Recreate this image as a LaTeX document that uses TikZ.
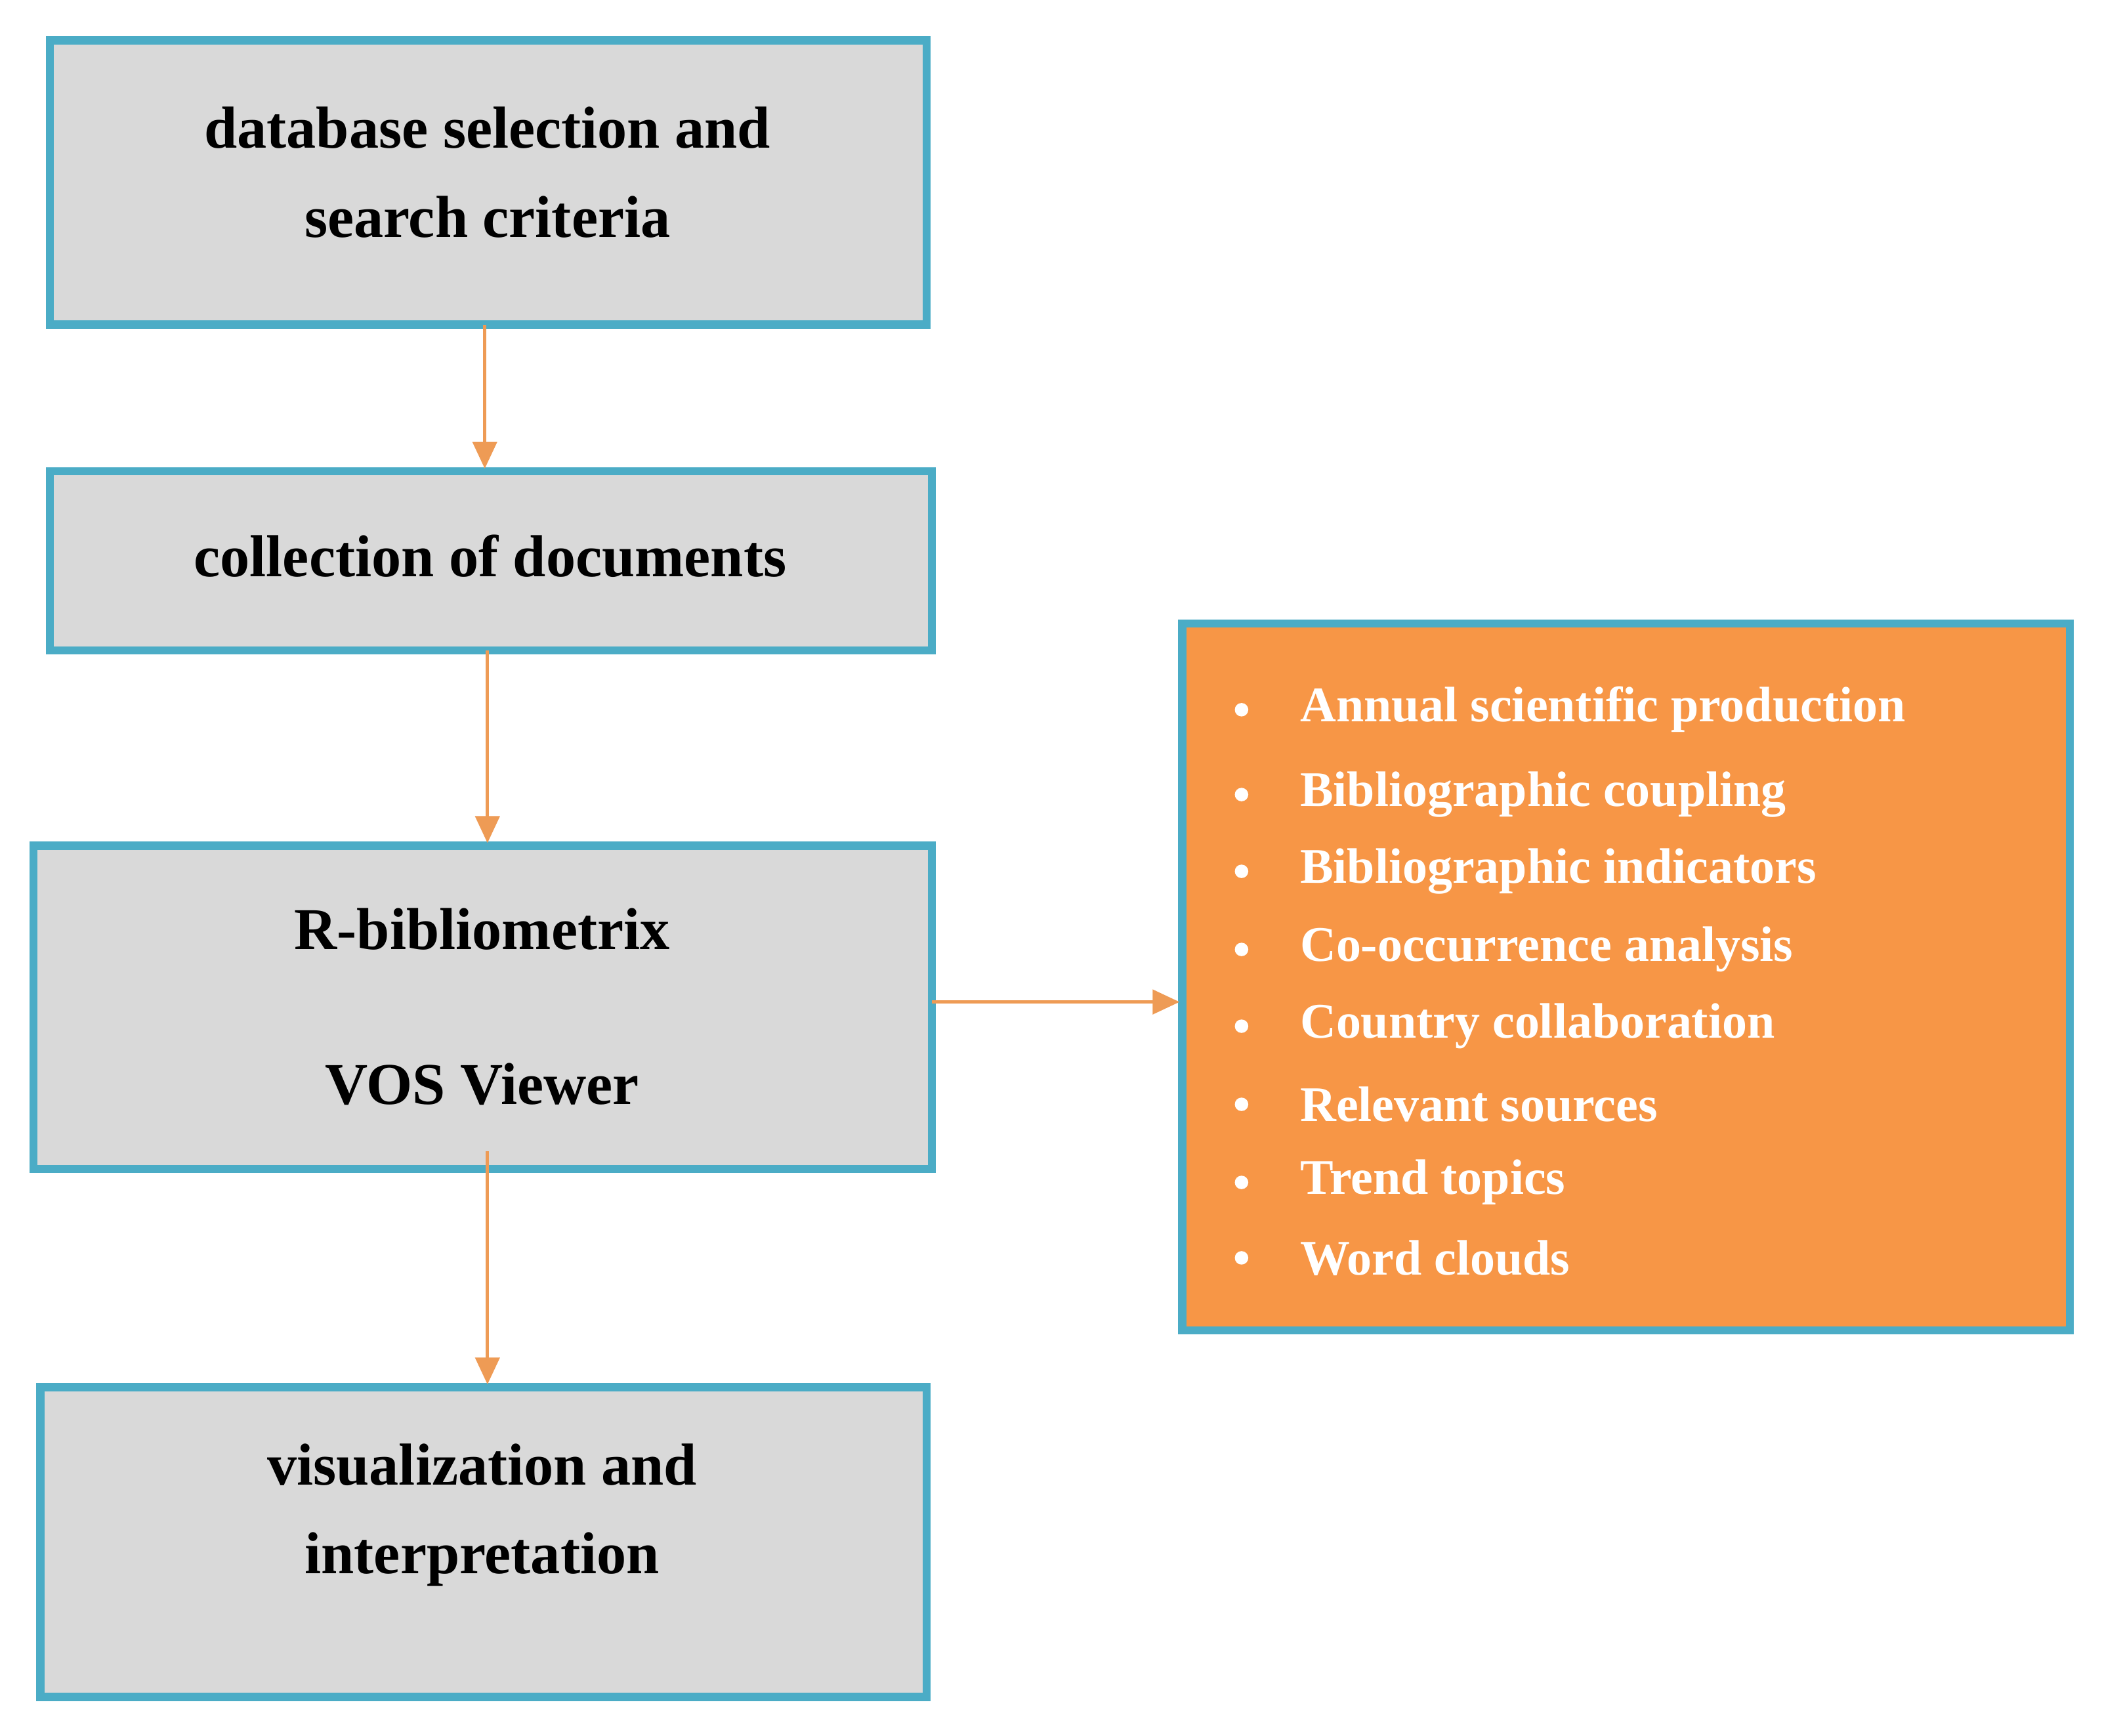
\documentclass[tikz,border=0pt]{standalone}
\usepackage{fontspec}
\setmainfont{Liberation Serif}
\usetikzlibrary{arrows.meta}
\definecolor{bord}{HTML}{4BACC6}
\definecolor{gfill}{HTML}{D9D9D9}
\definecolor{ofill}{HTML}{F79646}
\definecolor{arr}{HTML}{EE9B55}
\begin{document}
\begin{tikzpicture}[x=1pt,y=-1pt,
  box/.style={draw=bord,line width=6pt,fill=gfill},
  lab/.style={font=\bfseries\fontsize{44}{66}\selectfont,align=center},
  itm/.style={font=\bfseries\fontsize{37}{40}\selectfont,text=white,anchor=west},
  con/.style={draw=arr,line width=2.5pt,-{Triangle[length=20pt,width=18pt]}}]
\useasboundingbox (0,0) rectangle (1561,1289);
\draw[box] (37,30) rectangle (688,241);
\node[lab] (a) at (362,128) {database selection and\\search criteria};
\draw[box] (37,350) rectangle (692,483);
\node[lab] (b) at (364,413) {collection of documents};
\draw[box] (25,628) rectangle (692,868);
\node[lab] (c1) at (358,690) {R-bibliometrix};
\node[lab] (c2) at (358,805) {VOS Viewer};
\draw[box] (30,1030) rectangle (688,1260);
\node[lab] (d) at (358,1125) {visualization and\\interpretation};
\draw[draw=bord,line width=6pt,fill=ofill] (878,463) rectangle (1537,988);
\coordinate (a1) at (360,241); \coordinate (a2) at (360,348);
\coordinate (b1) at (362,483); \coordinate (b2) at (362,626);
\coordinate (c3) at (362,855); \coordinate (c4) at (362,1028);
\coordinate (e1) at (692,744); \coordinate (e2) at (876,744);
\draw[con] (a1) -- (a2);
\draw[con] (b1) -- (b2);
\draw[con] (c3) -- (c4);
\draw[con] (e1) -- (e2);
\foreach \t [count=\i] in {Annual scientific production,Bibliographic coupling,Bibliographic indicators,Co-occurrence analysis,Country collaboration,Relevant sources,Trend topics,Word clouds}{
  \pgfmathsetmacro{\yy}{{527,590,647,705,762,820,878,934}[\i-1]}
  \fill[white] (922,\yy) circle (5pt);
  \node[itm] (i\i) at (962,\yy) {\t};
}
\end{tikzpicture}
\end{document}
